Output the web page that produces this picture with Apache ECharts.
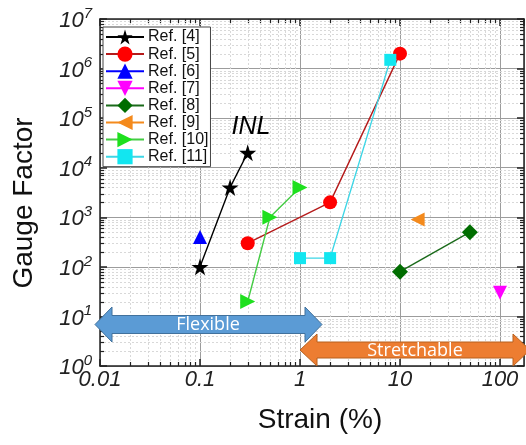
<!DOCTYPE html>
<html><head><meta charset="utf-8">
<script src="https://cdn.jsdelivr.net/npm/echarts@6/dist/echarts.min.js"></script>
<style>html,body{margin:0;padding:0;background:#fff}#c{width:526px;height:445px}</style>
</head><body><div id="c"></div>
<script>
// ---- data (strain %, gauge factor) ----
const seriesNames = ['Ref. [4]', 'Ref. [5]', 'Ref. [6]', 'Ref. [7]', 'Ref. [8]', 'Ref. [9]', 'Ref. [10]', 'Ref. [11]'];
const ref4  = [[0.1, 100], [0.2, 4000], [0.3, 20000]];
const ref5  = [[0.3, 300], [2, 2000], [10, 2000000]];
const ref6  = [[0.1, 400]];
const ref7  = [[100, 30]];
const ref8  = [[10, 80], [50, 500]];
const ref9  = [[15, 900]];
const ref10 = [[0.3, 20], [0.5, 1000], [1, 4000]];
const ref11 = [[1, 150], [2, 150], [8, 1500000]];
const xTickLabels = { '-2': '0.01', '-1': '0.1', '0': '1', '1': '10', '2': '100' };
const yTickExponents = ['0', '1', '2', '3', '4', '5', '6', '7'];
const xMinorMultipliers = [2, 3, 4, 5, 6, 7, 8, 9];
const annotationINL = 'INL';
const flexLabel = 'Flexible';
const stretchLabel = 'Stretchable';

// ---- styling ----
const FONT = '"Liberation Sans", Arial, sans-serif';
const XMIN = 0.01, XMAX = Math.pow(10, 2.24), YMIN = 1, YMAX = 1e7;
const STAR = 'path://M50,0 L61,35 L98,35 L68,57 L79,91 L50,70 L21,91 L32,57 L2,35 L39,35 Z';

const styles = [
  { data: ref4,  symbol: STAR,       size: 17, rot: 0,   color: '#000000', line: '#000000' },
  { data: ref5,  symbol: 'circle',   size: 14, rot: 0,   color: '#ff0000', line: '#b51a1a' },
  { data: ref6,  symbol: 'triangle', size: 14, rot: 0,   color: '#0000ff', line: '#0000ff' },
  { data: ref7,  symbol: 'triangle', size: 14, rot: 180, color: '#ff00ff', line: '#ff00ff' },
  { data: ref8,  symbol: 'diamond',  size: 16, rot: 0,   color: '#006d00', line: '#1a6a1a' },
  { data: ref9,  symbol: 'triangle', size: 14, rot: 90,  color: '#f48a1c', line: '#f48a1c' },
  { data: ref10, symbol: 'triangle', size: 15, rot: -90, color: '#1ee01e', line: '#44cc44' },
  { data: ref11, symbol: 'rect',     size: 12, rot: 0,   color: '#12e6f0', line: '#3dd6e6' }
];

const minorValues = (lo, hi) => {
  const out = [];
  for (let k = Math.floor(Math.log10(lo)); k <= Math.ceil(Math.log10(hi)); k++) {
    xMinorMultipliers.forEach(m => { const v = m * Math.pow(10, k); if (v > lo && v < hi) out.push(v); });
  }
  return out;
};
const xMinor = minorValues(XMIN, XMAX);
const yMinor = minorValues(YMIN, YMAX);

const isDecade = v => Math.abs(Math.log10(v) - Math.round(Math.log10(v))) < 1e-6;

const axisLineStyle = { color: '#222', width: 1.5 };
const baseX = {
  type: 'log', logBase: 10, min: XMIN, max: XMAX, interval: 1,
  axisLine: { show: true, onZero: false, lineStyle: axisLineStyle },
  axisTick: { show: true, inside: true, length: 7, lineStyle: axisLineStyle }
};
const baseY = {
  type: 'log', logBase: 10, min: YMIN, max: YMAX, interval: 1,
  axisLine: { show: true, onZero: false, lineStyle: axisLineStyle },
  axisTick: { show: true, inside: true, length: 7, lineStyle: axisLineStyle }
};

const chart = echarts.init(document.getElementById('c'), null, { renderer: 'canvas' });

const series = styles.map((s, i) => ({
  name: seriesNames[i], type: 'line', data: s.data,
  symbol: s.symbol, symbolSize: s.size, symbolRotate: s.rot,
  itemStyle: { color: s.color },
  lineStyle: { color: s.line, width: 1.4 },
  z: 3, animation: false
}));

series.unshift({
  type: 'custom', silent: true, z: 1, animation: false,
  data: [[1, 1]],
  renderItem: (params, api) => {
    const cs = params.coordSys;
    const L = cs.x, T = cs.y, W = cs.width, H = cs.height;
    const ch = [];
    const tickStyle = { stroke: '#222', lineWidth: 1.2 };
    xMinor.forEach(v => {
      const px = Math.round(api.coord([v, 1])[0]) + 0.5;
      ch.push({ type: 'line', shape: { x1: px, y1: T, x2: px, y2: T + H }, style: { stroke: '#d8d8d8', lineWidth: 1, lineDash: [2, 2] } });
      ch.push({ type: 'line', shape: { x1: px, y1: T + H, x2: px, y2: T + H - 4 }, style: tickStyle });
      ch.push({ type: 'line', shape: { x1: px, y1: T, x2: px, y2: T + 4 }, style: tickStyle });
    });
    yMinor.forEach(v => {
      const py = Math.round(api.coord([1, v])[1]) + 0.5;
      ch.push({ type: 'line', shape: { x1: L, y1: py, x2: L + W, y2: py }, style: { stroke: '#d8d8d8', lineWidth: 1, lineDash: [2, 2] } });
      ch.push({ type: 'line', shape: { x1: L, y1: py, x2: L + 4, y2: py }, style: tickStyle });
      ch.push({ type: 'line', shape: { x1: L + W, y1: py, x2: L + W - 4, y2: py }, style: tickStyle });
    });
    return { type: 'group', children: ch };
  }
});

const arrow = (x0, x1, cy, headH, bodyH, headL) => [
  [x0, cy], [x0 + headL, cy - headH / 2], [x0 + headL, cy - bodyH / 2], [x1 - headL, cy - bodyH / 2],
  [x1 - headL, cy - headH / 2], [x1, cy], [x1 - headL, cy + headH / 2], [x1 - headL, cy + bodyH / 2],
  [x0 + headL, cy + bodyH / 2], [x0 + headL, cy + headH / 2]
];

chart.setOption({
  animation: false,
  backgroundColor: '#fff',
  grid: { left: 100, right: 2, top: 19, bottom: 79, containLabel: false },
  xAxis: [
    Object.assign({}, baseX, {
      position: 'bottom',
      name: 'Strain (%)', nameLocation: 'middle', nameGap: 40,
      nameTextStyle: { fontFamily: FONT, fontSize: 28, color: '#111', padding: [0, 0, 0, 16] },
      axisLabel: {
        margin: 3, showMaxLabel: false, fontFamily: FONT, fontSize: 22, fontStyle: 'italic', color: '#222',
        formatter: v => isDecade(v) ? (xTickLabels[String(Math.round(Math.log10(v)))] || '') : ''
      },
      splitLine: { show: true, lineStyle: { color: '#9c9c9c', width: 1 } }
    }),
    Object.assign({}, baseX, { position: 'top', axisLabel: { show: false }, splitLine: { show: false } })
  ],
  yAxis: [
    Object.assign({}, baseY, {
      position: 'left',
      name: 'Gauge Factor', nameLocation: 'middle', nameGap: 62,
      nameTextStyle: { fontFamily: FONT, fontSize: 28, color: '#111', padding: [0, 21, 0, 0] },
      axisLabel: {
        margin: 8, fontFamily: FONT, color: '#222',
        formatter: v => isDecade(v) ? '{b|10}{s|' + yTickExponents[Math.round(Math.log10(v))] + '}' : '',
        rich: {
          b: { fontFamily: FONT, fontSize: 22, fontStyle: 'italic', color: '#222', lineHeight: 26, verticalAlign: 'bottom' },
          s: { fontFamily: FONT, fontSize: 15, fontStyle: 'italic', color: '#222', lineHeight: 15, verticalAlign: 'top' }
        }
      },
      splitLine: { show: true, lineStyle: { color: '#9c9c9c', width: 1 } }
    }),
    Object.assign({}, baseY, { position: 'right', axisLabel: { show: false }, splitLine: { show: false } })
  ],
  legend: {
    data: seriesNames, orient: 'vertical', left: 103, top: 27,
    padding: [2, 2, 2, 2], itemGap: 1.1, itemWidth: 38, itemHeight: 19,
    backgroundColor: '#fff', borderColor: '#444', borderWidth: 1,
    textStyle: { fontFamily: FONT, fontSize: 16, color: '#111', lineHeight: 16, padding: [0, 0, 0, -1] },
    z: 10
  },
  series: series,
  graphic: [
    { type: 'polygon', z: 100, shape: { points: arrow(300, 530, 350, 32, 16, 17) },
      style: { fill: '#ed7d31', stroke: '#b6611f', lineWidth: 1 } },
    { type: 'text', z: 101, x: 415, y: 351,
      style: { text: stretchLabel, fill: '#fff', font: '18px "Open Sans", sans-serif', textAlign: 'center', textVerticalAlign: 'middle' } },
    { type: 'polygon', z: 102, shape: { points: arrow(95, 322, 324.5, 35, 18, 17) },
      style: { fill: '#5b9bd5', stroke: '#41719c', lineWidth: 1 } },
    { type: 'text', z: 103, x: 208, y: 325,
      style: { text: flexLabel, fill: '#fff', font: '18px "Open Sans", sans-serif', textAlign: 'center', textVerticalAlign: 'middle' } },
    { type: 'text', z: 103, x: 251, y: 127,
      style: { text: annotationINL, fill: '#000', font: 'italic 25px "Liberation Sans", Arial, sans-serif', textAlign: 'center', textVerticalAlign: 'middle' } }
  ]
});
</script></body></html>
